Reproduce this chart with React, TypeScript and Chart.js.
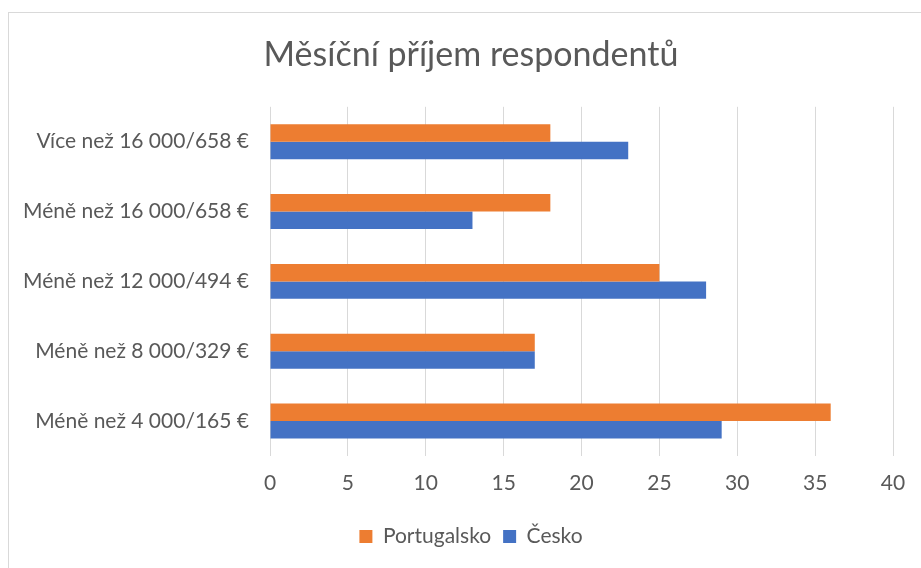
import React, { useEffect, useRef } from "react";
import { Chart, registerables } from "chart.js";

Chart.register(...registerables);

const categories = [
  "Více než 16 000/658 €",
  "Méně než 16 000/658 €",
  "Méně než 12 000/494 €",
  "Méně než 8 000/329 €",
  "Méně než 4 000/165 €",
];
const portugalsko = [18, 18, 25, 17, 36];
const cesko = [23, 13, 28, 17, 29];
const xTicks = [0, 5, 10, 15, 20, 25, 30, 35, 40];

const TEXT = "#595959";
const FONT = "Lato, 'Open Sans', sans-serif";

export default function App() {
  const ref = useRef<HTMLCanvasElement | null>(null);

  useEffect(() => {
    if (!ref.current) return;
    const chart = new Chart(ref.current, {
      type: "bar",
      data: {
        labels: categories,
        datasets: [
          {
            label: "Portugalsko",
            data: portugalsko,
            backgroundColor: "#ED7D31",
            borderWidth: 0,
          },
          {
            label: "Česko",
            data: cesko,
            backgroundColor: "#4472C4",
            borderWidth: 0,
          },
        ],
      },
      options: {
        indexAxis: "y",
        responsive: false,
        animation: false,
        devicePixelRatio: 1,
        datasets: { bar: { categoryPercentage: 0.5, barPercentage: 1 } },
        layout: { padding: { left: 10, right: -11, top: 0, bottom: 11 } },
        scales: {
          x: {
            min: 0,
            max: 40,
            afterBuildTicks: (s: any) => {
              s.ticks = xTicks.map((v) => ({ value: v }));
            },
            afterFit: (s: any) => {
              s.height = 58;
            },
            grid: { color: "#D9D9D9", drawTicks: false, lineWidth: 1 },
            border: { display: false },
            ticks: {
              padding: 15,
              color: TEXT,
              font: { family: FONT, size: 21 },
            },
          },
          y: {
            afterFit: (s: any) => {
              s.width = 260;
            },
            grid: { display: false, drawTicks: false },
            border: { display: false },
            ticks: {
              padding: 21,
              color: TEXT,
              font: { family: FONT, size: 21 },
            },
          },
          yRight: {
            type: "category",
            axis: "y",
            position: "right",
            labels: categories,
            afterFit: (s: any) => {
              s.width = 39;
            },
            grid: { display: false, drawTicks: false },
            border: { display: false },
            ticks: { display: false },
          },
        },
        plugins: {
          title: {
            display: true,
            text: "Měsíční příjem respondentů",
            color: TEXT,
            font: { family: FONT, size: 34, weight: "normal" },
            padding: { top: 35, bottom: 31 },
          },
          legend: {
            position: "bottom",
            labels: {
              color: TEXT,
              font: { family: FONT, size: 21 },
              boxWidth: 13,
              boxHeight: 13,
              padding: 12,
            },
          },
          tooltip: { enabled: false },
        },
      },
    });
    return () => chart.destroy();
  }, []);

  return (
    <div
      style={{
        position: "fixed",
        left: 0,
        top: 0,
        width: 921,
        height: 568,
        overflow: "hidden",
        background: "#ffffff",
      }}
    >
      <div
        style={{
          position: "absolute",
          left: 8,
          top: 12,
          width: 1000,
          height: 1000,
          border: "1px solid #D9D9D9",
        }}
      />
      <canvas
        ref={ref}
        width={921}
        height={568}
        style={{ position: "absolute", left: 0, top: 0, width: 921, height: 568 }}
      />
    </div>
  );
}
